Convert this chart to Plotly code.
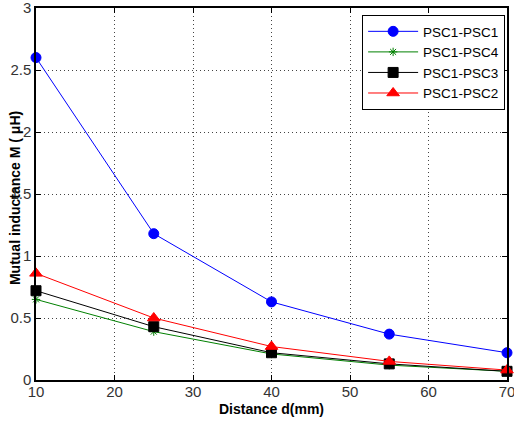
import plotly.graph_objects as go

distance = [10, 25, 40, 55, 70]
psc1_psc1 = [2.60, 1.18, 0.63, 0.37, 0.22]
psc1_psc4 = [0.65, 0.39, 0.21, 0.12, 0.07]
psc1_psc3 = [0.72, 0.43, 0.22, 0.13, 0.07]
psc1_psc2 = [0.86, 0.50, 0.27, 0.15, 0.08]
x_ticks = [10, 20, 30, 40, 50, 60, 70]
y_ticks = [0, 0.5, 1, 1.5, 2, 2.5, 3]
y_tick_labels = ["0", "0.5", "1", "1.5", "2", "2.5", "3"]

fig = go.Figure()
series = [
    ("PSC1-PSC1", psc1_psc1, "#0000ff", "circle", 10),
    ("PSC1-PSC4", psc1_psc4, "#008000", "asterisk-open", 7),
    ("PSC1-PSC3", psc1_psc3, "#000000", "square", 10),
    ("PSC1-PSC2", psc1_psc2, "#ff0000", "triangle-up", 11),
]
for name, vals, col, sym, sz in series:
    fig.add_trace(go.Scatter(
        x=distance, y=vals, name=name, mode="lines+markers",
        line=dict(color=col, width=1),
        marker=dict(symbol=sym, size=sz, color=col, line=dict(color=col, width=1)),
        cliponaxis=False,
    ))

axis_common = dict(
    showline=True, linecolor="black", linewidth=1.5, mirror="ticks",
    ticks="inside", ticklen=5, tickcolor="black",
    showgrid=True, gridcolor="#444444", griddash="1px,3px", gridwidth=1,
    zeroline=False, automargin=False, ticklabeloverflow="allow",
    tickfont=dict(family="Liberation Sans, Arial", size=15, color="#333333"),
)
fig.update_xaxes(range=[10, 70], tickvals=x_ticks, ticklabelstandoff=-3, **axis_common)
fig.update_yaxes(range=[0, 3], tickvals=y_ticks, ticktext=y_tick_labels,
                 ticklabelstandoff=0, **axis_common)

fig.update_layout(
    width=514, height=425,
    margin=dict(l=36, r=7, t=8, b=45),
    plot_bgcolor="white", paper_bgcolor="white",
    showlegend=True,
    legend=dict(
        x=0.996, y=0.981, xanchor="right", yanchor="top",
        bgcolor="white", bordercolor="black", borderwidth=1,
        font=dict(family="Liberation Sans, Arial", size=13.5, color="black"),
        itemwidth=50, tracegroupgap=0,
    ),
    annotations=[
        dict(text="<b>Distance d(mm)</b>", xref="paper", yref="paper",
             x=0.5, y=-0.078, xanchor="center", yanchor="middle", showarrow=False,
             font=dict(family="Liberation Sans, Arial", size=14, color="black")),
        dict(text="<b>Mutual inductance M ( μH)</b>", xref="paper", yref="paper",
             x=-0.046, y=0.49, xanchor="center", yanchor="middle", showarrow=False,
             textangle=-90,
             font=dict(family="Liberation Sans, Arial", size=14, color="black")),
    ],
)

fig.write_html("out.html", config={"displayModeBar": False},
               post_script="document.body.style.margin='0px';")
